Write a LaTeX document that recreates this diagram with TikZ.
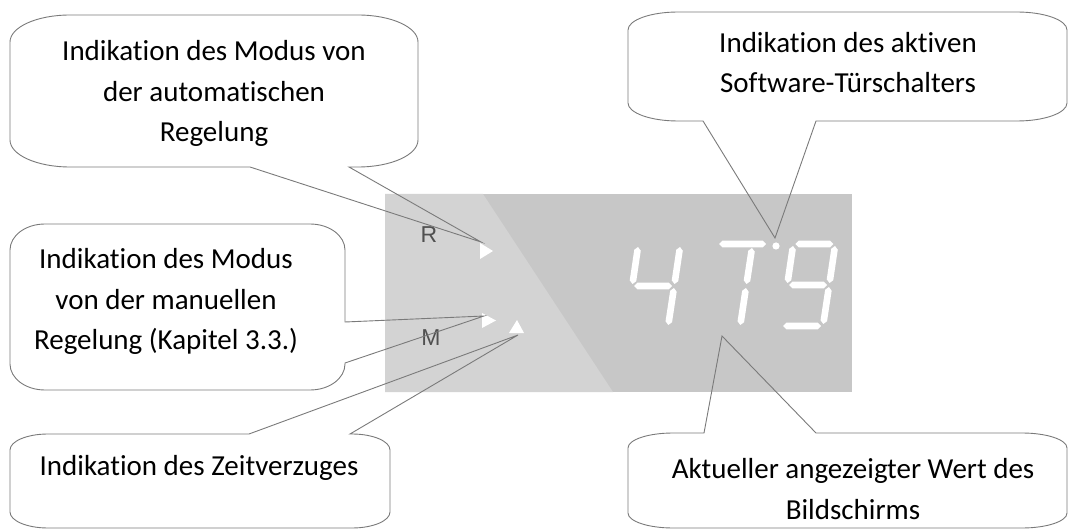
\documentclass[tikz,border=0pt]{standalone}
\usepackage{fontspec}
\setmainfont{Carlito}[Ligatures=NoCommon]
\newfontfamily\dispfont{Liberation Sans}
\usetikzlibrary{calc}
\definecolor{cline}{HTML}{7A7A7A}
\definecolor{dlight}{HTML}{D3D3D3}
\definecolor{ddark}{HTML}{C7C7C7}
\definecolor{dlabel}{HTML}{505050}
\newcommand\dseg[2]{%
  \coordinate (sA) at (#1);
  \coordinate (sB) at (#2);
  \coordinate (sA1) at ($(sA)!3.3pt!(sB)$);
  \coordinate (sB1) at ($(sB)!3.3pt!(sA)$);
  \fill[segfill] (sA) -- ($(sA1)!3.3pt!90:(sB)$) -- ($(sB1)!3.3pt!-90:(sA)$) -- (sB)
    -- ($(sB1)!3.3pt!90:(sA)$) -- ($(sA1)!3.3pt!-90:(sB)$) -- cycle;}
\begin{document}
\begin{tikzpicture}[x=1pt,y=-1pt,
  callout/.style={draw=cline, line width=0.9pt, line join=miter},
  ctext/.style={align=center, inner sep=0pt, font=\fontsize{29}{40.5}\selectfont},
  dlbl/.style={inner sep=0pt, text=dlabel, font=\dispfont\fontsize{23}{23}\selectfont},
  segfill/.style={fill=white},
  ind/.style={fill=white}]
\useasboundingbox (0,0) rectangle (1068,529);
% display
\fill[ddark] (385,194) rectangle (852,392);
\fill[dlight] (385,194) -- (483,194) -- (613,392) -- (385,392) -- cycle;
\node[dlbl] (lR) at (429,235) {R};
\node[dlbl] (lM) at (431,338) {M};
\fill[ind] (480,243) -- (493,251) -- (480,259) -- cycle;
\fill[ind] (482,313) -- (496,320.5) -- (482,328) -- cycle;
\fill[ind] (509,333) -- (517,320) -- (524,333) -- cycle;
% digit 4
\dseg{632.5,284}{638,247}
\dseg{634.2,286}{672.2,286}
\dseg{674.5,284}{680,247}
\dseg{668.3,325}{673.9,288}
% digit 7
\dseg{719,244}{766,244}
\dseg{746.5,284}{752,248}
\dseg{740.3,325}{745.9,288}
\fill[white] (776,246) circle (3.6);
% digit 9
\dseg{795.3,244}{833.3,244}
\dseg{787.5,283}{793,246}
\dseg{829.5,283}{835,246}
\dseg{789.2,285}{827.2,285}
\dseg{823.3,324}{828.9,287}
\dseg{783,326}{821,326}
% pointer tips
\coordinate (tipR) at (481,242);
\coordinate (tipM) at (484,316);
\coordinate (tipZ) at (518,335);
\coordinate (tipT) at (775,238);
\coordinate (tipW) at (722,336);
% callout 1
\draw[callout] (70,15) -- (358,15) .. controls (391.1,15) and (418,27.1) .. (418,42)
  -- (418,140) .. controls (418,154.9) and (391.1,167) .. (358,167)
  -- (349,167) -- (tipR) -- (250,167) -- (70,167)
  .. controls (36.9,167) and (10,154.9) .. (10,140) -- (10,42)
  .. controls (10,27.1) and (36.9,15) .. (70,15) -- cycle;
\node[ctext] (c1) at (214,93) {\strut Indikation des Modus von\\\strut der automatischen\\\strut Regelung};
% callout 2
\draw[callout] (45,224) -- (310,224) .. controls (329.3,224) and (345,235.6) .. (345,250)
  -- (345,322) -- (tipM) -- (345,363) -- (345,364)
  .. controls (345,378.4) and (329.3,390) .. (310,390) -- (45,390)
  .. controls (25.7,390) and (10,378.4) .. (10,364) -- (10,250)
  .. controls (10,235.6) and (25.7,224) .. (45,224) -- cycle;
\node[ctext] (c2) at (166,301) {\strut Indikation des Modus\\\strut von der manuellen\\\strut Regelung (Kapitel 3.3.)};
% callout 3
\draw[callout] (48,434) -- (249,434) -- (tipZ) -- (350,434) -- (352,434)
  .. controls (373,434) and (390,441.2) .. (390,450) -- (390,512)
  .. controls (390,520.8) and (373,528) .. (352,528) -- (48,528)
  .. controls (27,528) and (10,520.8) .. (10,512) -- (10,450)
  .. controls (10,441.2) and (27,434) .. (48,434) -- cycle;
\node[ctext] (c3) at (199,467) {\strut Indikation des Zeitverzuges};
% callout 4
\draw[callout] (678,12) -- (1017,12) .. controls (1044.6,12) and (1067,20.1) .. (1067,30)
  -- (1067,103) .. controls (1067,112.9) and (1044.6,121) .. (1017,121)
  -- (816,121) -- (tipT) -- (703,121) -- (678,121)
  .. controls (650.4,121) and (628,112.9) .. (628,103) -- (628,30)
  .. controls (628,20.1) and (650.4,12) .. (678,12) -- cycle;
\node[ctext] (c4) at (848,64.5) {\strut Indikation des aktiven\\\strut Software-Türschalters};
% callout 5
\draw[callout] (673,433) -- (704,433) -- (tipW) -- (816,433) -- (1022,433)
  .. controls (1046.8,433) and (1067,439.7) .. (1067,448) -- (1067,513)
  .. controls (1067,521.3) and (1046.8,528) .. (1022,528) -- (673,528)
  .. controls (648.2,528) and (628,521.3) .. (628,513) -- (628,448)
  .. controls (628,439.7) and (648.2,433) .. (673,433) -- cycle;
\node[ctext] (c5) at (853,491) {\strut Aktueller angezeigter Wert des\\\strut Bildschirms};
\end{tikzpicture}
\end{document}
